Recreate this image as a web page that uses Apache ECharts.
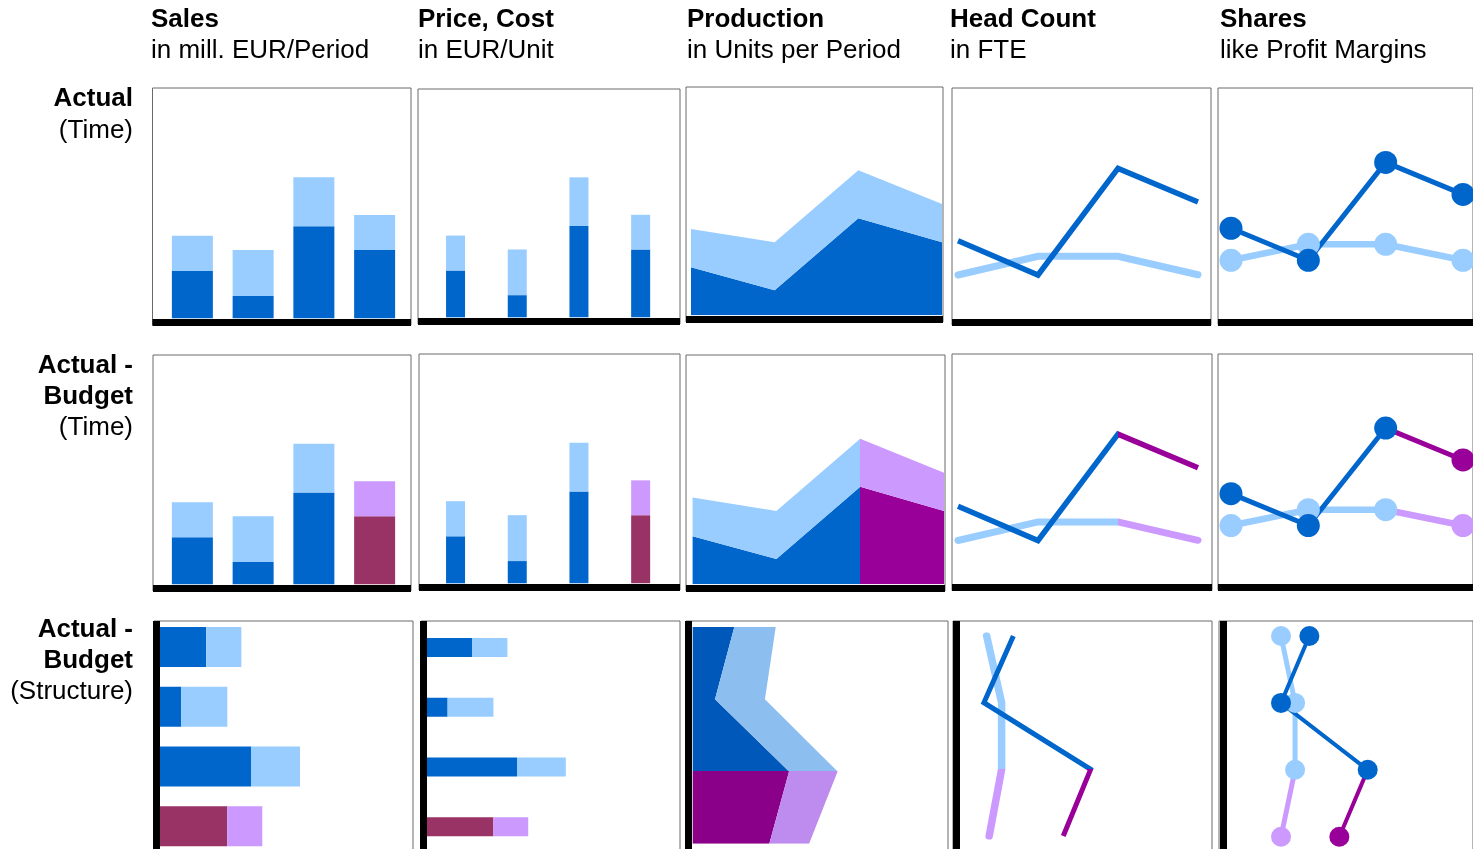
<!DOCTYPE html>
<html>
<head>
<meta charset="utf-8">
<script src="https://cdn.jsdelivr.net/npm/echarts@6/dist/echarts.min.js"></script>
<style>
  html, body { margin: 0; padding: 0; background: #fff; width: 1473px; height: 849px; overflow: hidden; }
  /* the lowest row of panels runs on past the bottom edge of the page */
  #chart { width: 1473px; height: 900px; }
</style>
</head>
<body>
<div id="chart"></div>
<script>
// Periods (not labelled on the axes)
const periods = ['P1', 'P2', 'P3', 'P4'];
// Index of the last actual period; the periods after it are budget
const lastActual = 2;

// Sales, in mill. EUR/Period
const salesBase = [2.05, 0.97, 4.0, 2.97];
const salesTop = [1.53, 2.0, 2.13, 1.52];
// Price, Cost, in EUR/Unit
const priceBase = [2.05, 0.97, 4.0, 2.97];
const priceTop = [1.53, 2.0, 2.13, 1.52];
// Production, in units per period
const prodBase = [2.1, 1.1, 4.25, 3.2];
const prodTop = [1.68, 2.1, 2.1, 1.67];
// Head count, in FTE
const headMain = [3.37, 1.88, 6.51, 5.05];
const headSecond = [1.88, 2.69, 2.69, 1.89];
// Shares, like profit margins
const shareMain = [3.91, 2.52, 6.77, 5.38];
const shareSecond = [2.52, 3.21, 3.21, 2.52];
// Structure view of production and head count
const prodStructBase = [1.81, 0.97, 4.19, 3.33];
const prodStructTop = [1.8, 2.17, 2.11, 1.73];
const headStructMain = [2.35, 1.07, 5.71, 4.52];
const headStructSecond = [1.19, 1.84, 1.84, 1.3];

const columnTitles = ['Sales', 'Price, Cost', 'Production', 'Head Count', 'Shares'];
const columnUnits = ['in mill. EUR/Period', 'in EUR/Unit', 'in Units per Period', 'in FTE', 'like Profit Margins'];
const rowLabels = [
  [['Actual', true], ['(Time)', false]],
  [['Actual -', true], ['Budget', true], ['(Time)', false]],
  [['Actual -', true], ['Budget', true], ['(Structure)', false]]
];

// ---- styling and layout ----
const COLORS = {
  dark: '#0066CC', light: '#99CCFF',
  budgetBar: '#993366', budgetLight: '#CC99FF', budgetLine: '#990099',
  sDark: '#0058BB', sLight: '#8CBEF0', sPurple: '#8A0088', sLavender: '#BD8CEE'
};
const FONT = '"Liberation Sans", Arial, Helvetica, sans-serif';
const headerX = [151, 418, 687, 950, 1220];
const headerY = [20, 51];
const rowLabelY = [[99, 131], [366, 397, 428], [630, 661, 692]];

// panel frames [left, top, right, bottom]
const frames = [
  [[152.5, 88, 411, 325], [418, 89, 680, 324], [686, 87, 943, 322], [952, 88, 1211, 325], [1218, 88, 1490, 324.5]],
  [[153, 355, 411, 591], [419, 354, 680, 590], [686, 355, 945, 591], [952, 354, 1212, 590.5], [1218, 354, 1490, 590]],
  [[154, 621, 413, 880], [421, 621, 680, 880], [686, 621, 948, 880], [953, 621, 1212, 880], [1219, 621, 1490, 880]]
];
// plot areas [left, top, right, bottom] inside each frame
const plots = [
  [[162, 88, 405, 318.3], [424.7, 89, 671.5, 317.3], [691, 87, 942, 315.3], [958, 88, 1198, 318.3], [1231, 88, 1463, 318.3]],
  [[162, 355, 405, 584.3], [424.7, 354, 671.5, 583.3], [692.6, 355, 944, 584.3], [958, 354, 1198, 583.7], [1231, 354, 1463, 583.3]],
  [[159, 617.2, 389, 856], [425.4, 617.7, 654.4, 856.5], [692.7, 627, 922.7, 843.7], [959.3, 636, 1189.3, 836], [1229.6, 636, 1433.6, 836.7]]
];
// x of the thick zero line in the structure row
const structAxisX = [156.7, 423.2, 688.3, 956, 1223];
const AXIS_W = 7;

const grid = [], xAxis = [], yAxis = [], series = [], visualMap = [], graphic = [];
const hidden = { show: false };

function addFrame(r, c) {
  const [l, t, rt, b] = frames[r][c];
  const gi = grid.length;
  grid.push({ left: l, top: t, width: rt - l, height: b - t, show: true,
    borderColor: '#6a6a6a', borderWidth: 1, backgroundColor: 'transparent' });
  const line = { show: true, onZero: false, lineStyle: { color: '#000', width: AXIS_W, cap: 'butt' } };
  if (r < 2) {
    const yLine = plots[r][c][3] + AXIS_W / 2;
    xAxis.push({ gridIndex: gi, type: 'value', min: 0, max: 1, position: 'bottom', offset: yLine - b,
      axisLine: line, axisTick: hidden, axisLabel: hidden, splitLine: hidden, z: 10 });
    yAxis.push({ gridIndex: gi, type: 'value', min: 0, max: 1, show: false });
  } else {
    xAxis.push({ gridIndex: gi, type: 'value', min: 0, max: 1, show: false });
    yAxis.push({ gridIndex: gi, type: 'value', min: 0, max: 1, position: 'left', offset: l - structAxisX[c],
      axisLine: line, axisTick: hidden, axisLabel: hidden, splitLine: hidden, z: 10 });
  }
}

function addPlot(r, c, boundaryGap) {
  const [l, t, rt, b] = plots[r][c];
  const gi = grid.length;
  grid.push({ left: l, top: t, width: rt - l, height: b - t, show: false });
  const cat = { gridIndex: gi, type: 'category', data: periods, boundaryGap: boundaryGap, show: false };
  const val = { gridIndex: gi, type: 'value', min: 0, max: 10, show: false };
  if (r < 2) { xAxis.push(cat); yAxis.push(val); }
  else { xAxis.push(val); yAxis.push(Object.assign({}, cat, { inverse: true })); }
  return gi;
}

function isBudgetItem(budget, i) { return budget && i > lastActual; }

function addBars(ai, base, top, width, budget) {
  [[base, COLORS.dark, COLORS.budgetBar], [top, COLORS.light, COLORS.budgetLight]].forEach(([arr, col, bud]) => {
    series.push({
      type: 'bar', xAxisIndex: ai, yAxisIndex: ai, stack: 'bars' + ai, barWidth: width,
      itemStyle: { color: col },
      data: arr.map((v, i) => ({ value: v, itemStyle: { color: isBudgetItem(budget, i) ? bud : col } }))
    });
  });
}

// colour split along the period dimension: actual periods vs budget periods
function budgetMap(seriesIdx, dim, col, bud) {
  const n = periods.length;
  visualMap.push({ type: 'piecewise', show: false, dimension: dim, seriesIndex: seriesIdx,
    pieces: [{ gte: -n, lte: lastActual, color: col }, { gt: lastActual, lte: 2 * n, color: bud }] });
}

function addAreas(ai, base, top, cols, budget, dim) {
  [[base, cols[0], cols[2]], [top, cols[1], cols[3]]].forEach(([arr, col, bud]) => {
    const s = { type: 'line', xAxisIndex: ai, yAxisIndex: ai, stack: 'area' + ai, data: arr,
      symbol: 'none', lineStyle: { width: 0 }, areaStyle: { opacity: 1 } };
    if (budget) { budgetMap(series.length, dim, col, bud); }
    else { s.areaStyle.color = col; s.itemStyle = { color: col }; }
    series.push(s);
  });
}

// o: {mainW, secondW, symbolSize, budget, dim}
function addLines(ai, main, second, o) {
  [[second, COLORS.light, COLORS.budgetLight, o.secondW, 'round'],
   [main, COLORS.dark, COLORS.budgetLine, o.mainW, 'butt']].forEach(([arr, col, bud, w, cap]) => {
    const s = { type: 'line', xAxisIndex: ai, yAxisIndex: ai, data: arr,
      symbol: o.symbolSize ? 'circle' : 'none', symbolSize: o.symbolSize || 0, showSymbol: !!o.symbolSize,
      lineStyle: { width: w, join: 'miter', cap: cap }, itemStyle: { borderWidth: 0 } };
    if (o.budget) { budgetMap(series.length, o.dim, col, bud); }
    else { s.lineStyle.color = col; s.itemStyle.color = col; }
    series.push(s);
  });
}

// ---- build the 3 x 5 panel matrix ----
for (let r = 0; r < 3; r++) {
  for (let c = 0; c < 5; c++) addFrame(r, c);
}
for (let r = 0; r < 2; r++) {
  const budget = r === 1;
  addBars(addPlot(r, 0, true), salesBase, salesTop, 41, budget);
  addBars(addPlot(r, 1, true), priceBase, priceTop, 19, budget);
  addAreas(addPlot(r, 2, false), prodBase, prodTop,
    [COLORS.dark, COLORS.light, COLORS.budgetLine, COLORS.budgetLight], budget, 0);
  addLines(addPlot(r, 3, false), headMain, headSecond, { mainW: 5.5, secondW: 7, budget: budget, dim: 0 });
  addLines(addPlot(r, 4, false), shareMain, shareSecond, { mainW: 5, secondW: 6.5, symbolSize: 23, budget: budget, dim: 0 });
}
// structure row: categories run down the panel, values to the right
addBars(addPlot(2, 0, true), salesBase, salesTop, 40, true);
addBars(addPlot(2, 1, true), priceBase, priceTop, 19, true);
addAreas(addPlot(2, 2, false), prodStructBase, prodStructTop,
  [COLORS.sDark, COLORS.sLight, COLORS.sPurple, COLORS.sLavender], true, 1);
addLines(addPlot(2, 3, false), headStructMain, headStructSecond, { mainW: 5, secondW: 7.5, budget: true, dim: 1 });
addLines(addPlot(2, 4, false), shareMain, shareSecond, { mainW: 4, secondW: 5, symbolSize: 20, budget: true, dim: 1 });

// ---- headings ----
function text(x, y, str, bold, align) {
  graphic.push({ type: 'text', x: x, y: y, z: 20, silent: true,
    style: { text: str, fill: '#000', font: (bold ? 'bold ' : '') + '26px ' + FONT,
      textAlign: align, textVerticalAlign: 'middle', align: align, verticalAlign: 'middle' } });
}
columnTitles.forEach((t, i) => {
  text(headerX[i], headerY[0], t, true, 'left');
  text(headerX[i], headerY[1], columnUnits[i], false, 'left');
});
rowLabels.forEach((lines, r) => {
  lines.forEach(([t, bold], k) => text(133, rowLabelY[r][k], t, bold, 'right'));
});

const chart = echarts.init(document.getElementById('chart'), null, { renderer: 'canvas' });
chart.setOption({
  animation: false,
  backgroundColor: '#fff',
  grid: grid, xAxis: xAxis, yAxis: yAxis,
  visualMap: visualMap, series: series, graphic: graphic
});
</script>
</body>
</html>
